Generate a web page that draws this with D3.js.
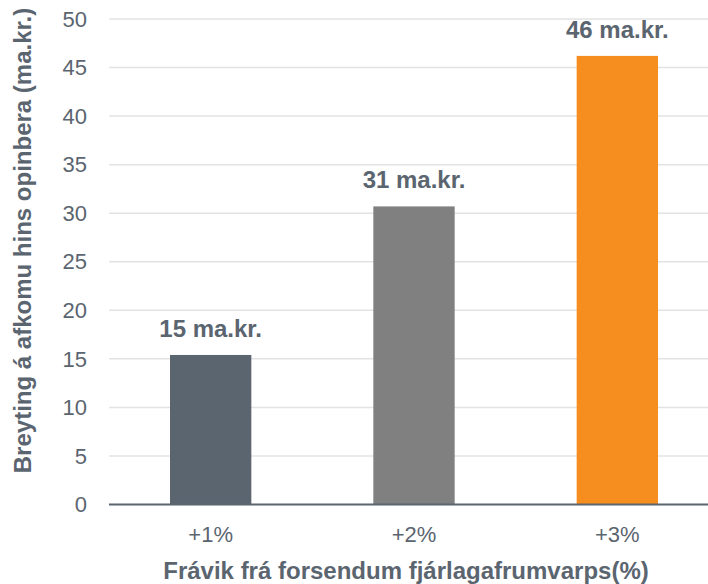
<!DOCTYPE html>
<html>
<head>
<meta charset="utf-8">
<script src="https://cdn.jsdelivr.net/npm/d3@7"></script>
<style>
  body { margin: 0; background: #fff; }
  text { font-family: "Liberation Sans", Arial, sans-serif; }
</style>
</head>
<body>
<svg id="chart" width="708" height="584"></svg>
<script>
var categories = ["+1%", "+2%", "+3%"];
var values = [15.4, 30.7, 46.2];
var valueLabels = ["15 ma.kr.", "31 ma.kr.", "46 ma.kr."];
var barColors = ["#5b6570", "#808080", "#f68d1f"];
var yTicks = [0, 5, 10, 15, 20, 25, 30, 35, 40, 45, 50];

var TEXT_COLOR = "#5b6570";
var svg = d3.select("#chart");

var x = d3.scaleBand()
    .domain(categories)
    .range([109, 719])
    .paddingInner(0.6)
    .paddingOuter(0.3);

var y = d3.scaleLinear()
    .domain([0, 50])
    .range([504.5, 19]);

// gridlines
svg.append("g")
    .selectAll("line")
    .data(yTicks.filter(function(d) { return d > 0; }))
    .join("line")
    .attr("x1", 109)
    .attr("x2", 708)
    .attr("y1", function(d) { return y(d); })
    .attr("y2", function(d) { return y(d); })
    .attr("stroke", "#e3e3e3")
    .attr("stroke-width", 1.5);

// y tick labels
svg.append("g")
    .selectAll("text")
    .data(yTicks)
    .join("text")
    .attr("x", 87)
    .attr("y", function(d) { return y(d); })
    .attr("dy", "0.35em")
    .attr("text-anchor", "end")
    .attr("font-size", "22px")
    .attr("fill", TEXT_COLOR)
    .text(function(d) { return d; });

// bars
svg.append("g")
    .selectAll("rect")
    .data(values)
    .join("rect")
    .attr("x", function(d, i) { return x(categories[i]); })
    .attr("width", x.bandwidth())
    .attr("y", function(d) { return y(d); })
    .attr("height", function(d) { return y(0) - y(d); })
    .attr("fill", function(d, i) { return barColors[i]; });

// value labels
svg.append("g")
    .selectAll("text")
    .data(values)
    .join("text")
    .attr("x", function(d, i) { return x(categories[i]) + x.bandwidth() / 2; })
    .attr("y", function(d) { return y(d) - 18; })
    .attr("text-anchor", "middle")
    .attr("font-size", "24px")
    .attr("font-weight", "bold")
    .attr("fill", TEXT_COLOR)
    .text(function(d, i) { return valueLabels[i]; });

// baseline
svg.append("line")
    .attr("x1", 109)
    .attr("x2", 708)
    .attr("y1", y(0))
    .attr("y2", y(0))
    .attr("stroke", TEXT_COLOR)
    .attr("stroke-width", 2);

// x tick labels
svg.append("g")
    .selectAll("text")
    .data(categories)
    .join("text")
    .attr("x", function(d) { return x(d) + x.bandwidth() / 2; })
    .attr("y", 542)
    .attr("text-anchor", "middle")
    .attr("font-size", "22px")
    .attr("fill", TEXT_COLOR)
    .text(function(d) { return d; });

// axis titles
svg.append("text")
    .attr("x", 406)
    .attr("y", 579)
    .attr("text-anchor", "middle")
    .attr("font-size", "24px")
    .attr("font-weight", "bold")
    .attr("fill", TEXT_COLOR)
    .text("Frávik frá forsendum fjárlagafrumvarps(%)");

svg.append("text")
    .attr("transform", "translate(31, 240.5)rotate(-90)")
    .attr("text-anchor", "middle")
    .attr("font-size", "24px")
    .attr("font-weight", "bold")
    .attr("fill", TEXT_COLOR)
    .text("Breyting á afkomu hins opinbera (ma.kr.)");
</script>
</body>
</html>
